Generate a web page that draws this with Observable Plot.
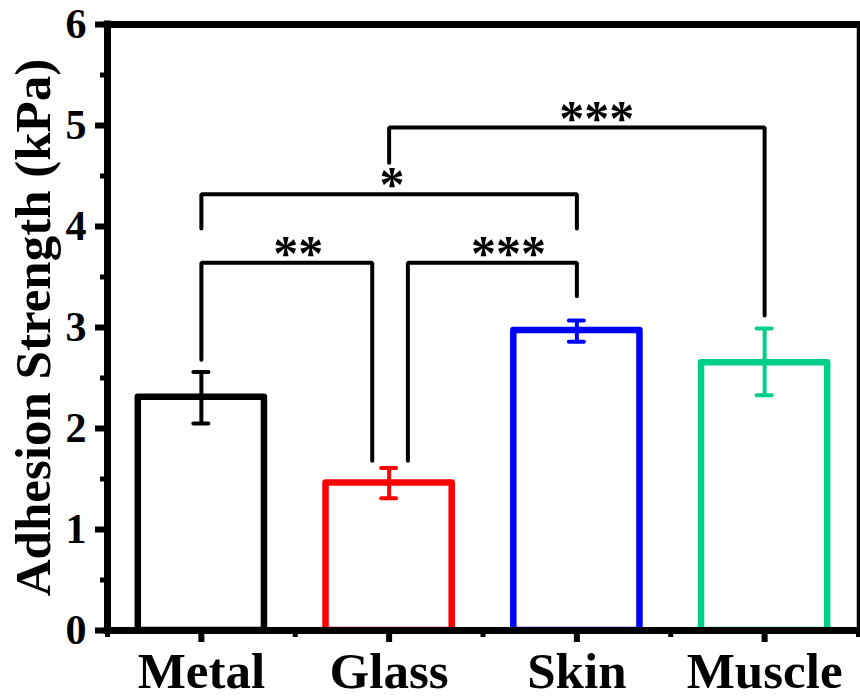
<!DOCTYPE html>
<html><head><meta charset="utf-8">
<script src="https://cdn.jsdelivr.net/npm/d3@7"></script>
<script src="https://cdn.jsdelivr.net/npm/@observablehq/plot@0.6"></script>
<style>body{margin:0;background:#fff;} #chart{width:860px;height:699px;}</style>
</head><body><div id="chart"></div>
<script>
// ---- data ----
const categories = ["Metal", "Glass", "Skin", "Muscle"];
const means   = [2.31, 1.46, 2.97, 2.65];
const errLow  = [2.05, 1.31, 2.86, 2.33];
const errHigh = [2.56, 1.61, 3.07, 2.99];
const colors  = ["#000000", "#ff0000", "#0000ff", "#00cf8a"];

// significance brackets (x in category positions 1..4, y in kPa)
const bracketX1     = [1, 2.10, 1, 2];
const bracketX2     = [1.91, 3, 3, 4];
const bracketY      = [3.64, 3.64, 4.32, 4.98];
const bracketEnd1   = [2.68, 1.68, 3.98, 4.63];
const bracketEnd2   = [1.68, 3.31, 3.98, 3.12];
const bracketLabels = ["**", "***", "*", "***"];
const bracketLabelX = [1.51, 2.63, 2.01, 3.10];

const yTicks = [0, 1, 2, 3, 4, 5, 6];
const yMinor = [0.5, 1.5, 2.5, 3.5, 4.5, 5.5];
const xDomain = [0.5, 4.5];
const yDomain = [0, 6];
const yLabel = "Adhesion Strength (kPa)";

// ---- derived tables ----
const bars = categories.map((c, i) => ({pos: i + 1, cat: c, mean: means[i], lo: errLow[i], hi: errHigh[i], color: colors[i]}));
const caps = bars.flatMap(d => [{pos: d.pos, v: d.lo, color: d.color}, {pos: d.pos, v: d.hi, color: d.color}]);
const brackets = bracketLabels.map((t, i) => ({id: i, x1: bracketX1[i], x2: bracketX2[i], y: bracketY[i], e1: bracketEnd1[i], e2: bracketEnd2[i], label: t, lx: bracketLabelX[i]}));
const bracketPts = brackets.flatMap(b => [
  {id: b.id, x: b.x1, y: b.e1}, {id: b.id, x: b.x1, y: b.y},
  {id: b.id, x: b.x2, y: b.y}, {id: b.id, x: b.x2, y: b.e2}
]);
const xMinor = d3.range(xDomain[0], xDomain[1] + 0.01, 1);

const halfW = 0.336, capW = 0.04;
const font = "'Liberation Serif','Times New Roman',serif";

const plot = Plot.plot({
  width: 860, height: 699,
  marginLeft: 107, marginRight: 2, marginTop: 24, marginBottom: 69,
  x: {domain: xDomain},
  y: {domain: yDomain},
  color: {type: "identity"},
  style: {fontFamily: font, fontWeight: "bold", fontSize: "40px", color: "#000", background: "#fff", overflow: "visible"},
  marks: [
    Plot.rectY(bars, {x1: d => d.pos - halfW, x2: d => d.pos + halfW, y1: 0, y2: "mean", fill: "none", stroke: "color", strokeWidth: 6.5, strokeLinejoin: "round"}),
    Plot.ruleX(bars, {x: "pos", y1: "lo", y2: "hi", stroke: "color", strokeWidth: 4}),
    Plot.ruleY(caps, {x1: d => d.pos - capW, x2: d => d.pos + capW, y: "v", stroke: "color", strokeWidth: 4, strokeLinecap: "round"}),
    Plot.line(bracketPts, {x: "x", y: "y", z: "id", stroke: "#000", strokeWidth: 4, strokeLinejoin: "miter", strokeLinecap: "round"}),
    Plot.text(brackets, {x: "lx", y: "y", text: "label", fontSize: 50, fontWeight: "bold", lineAnchor: "bottom", dy: 7, dx: 1, ariaLabel: "sig"}),
    // frame
    Plot.ruleX([xDomain[0]], {stroke: "#000", strokeWidth: 7, strokeLinecap: "square"}),
    Plot.ruleX([xDomain[1]], {stroke: "#000", strokeWidth: 3.5, strokeLinecap: "square"}),
    Plot.ruleY([yDomain[0]], {stroke: "#000", strokeWidth: 7, strokeLinecap: "square"}),
    Plot.ruleY([yDomain[1]], {stroke: "#000", strokeWidth: 7, strokeLinecap: "square"}),
    // axes
    Plot.axisY({ticks: yTicks, tickSize: 12, tickPadding: 9, strokeWidth: 6, fontSize: 42, label: null, tickFormat: d => String(d)}),
    Plot.axisY({ticks: yMinor, tickSize: 7, strokeWidth: 5, tickFormat: () => "", label: null}),
    Plot.axisX({ticks: [1, 2, 3, 4], tickSize: 12, tickPadding: 9, strokeWidth: 6, fontSize: 51, label: null, tickFormat: d => categories[d - 1]}),
    Plot.axisX({ticks: xMinor, tickSize: 7, strokeWidth: 5, tickFormat: () => "", label: null}),
    Plot.text([yLabel], {frameAnchor: "left", textAnchor: "middle", rotate: -90, dx: -58, fontSize: 51, fontWeight: "bold", lineAnchor: "bottom"})
  ]
});
d3.select(plot).selectAll('g[aria-label="sig"] text').style("letter-spacing", "2px");
document.getElementById("chart").appendChild(plot);
</script>
</body></html>
